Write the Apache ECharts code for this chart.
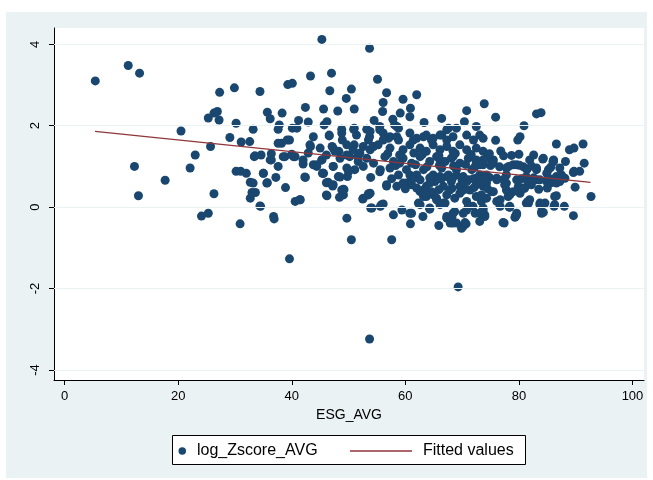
<!DOCTYPE html>
<html>
<head>
<meta charset="utf-8">
<script src="https://cdn.jsdelivr.net/npm/echarts@6/dist/echarts.min.js"></script>
<style>
html,body{margin:0;padding:0;background:#fff;}
#wrap{position:absolute;left:6px;top:12px;width:641px;height:466px;}
</style>
</head>
<body>
<div id="wrap"></div>
<script>
// ---- data ----
const esgAvg = [
5.4,11.2,13.2,12.3,13.0,17.7,20.5,22.1,23.0,24.1,25.3,25.3,25.7,26.3,26.3,26.9,27.2,27.3,29.1,29.9,
30.2,30.2,30.9,31.1,31.0,32.0,32.6,32.7,32.7,33.0,33.2,33.4,33.6,34.4,34.5,34.6,35.0,35.7,35.7,36.2,
36.4,36.4,36.8,36.9,37.2,37.6,37.6,37.8,38.3,38.2,38.9,38.8,39.2,39.3,39.6,40.1,40.1,40.3,40.6,40.6,
40.9,41.2,41.5,42.0,42.4,42.4,42.9,42.9,43.3,43.3,43.8,43.8,44.4,45.3,45.3,45.6,45.6,45.7,46.2,46.2,
46.4,46.6,46.7,47.0,47.1,47.3,47.3,48.1,48.3,48.4,48.8,48.9,49.2,49.6,49.7,49.8,50.5,50.5,51.0,51.0,
51.0,51.1,51.6,52.5,53.2,53.5,53.7,53.7,53.9,53.9,53.7,54.3,54.5,55.1,55.6,55.6,56.0,56.1,56.1,56.7,
56.7,57.6,57.9,57.8,58.1,59.1,59.4,59.6,60.2,60.9,60.9,61.1,62.0,63.1,63.3,64.3,65.9,66.4,67.9,68.2,
69.3,69.9,70.2,70.7,70.8,70.4,71.2,73.1,73.4,73.9,75.9,75.9,77.4,78.3,79.4,79.8,80.2,80.9,81.7,83.1,
83.9,84.0,84.2,86.2,86.6,86.1,86.6,88.0,88.2,88.9,89.7,89.6,89.9,89.7,90.7,91.3,91.5,92.7,
60.8,55.5,58.8,67.6,69.0,72.5,48.8,51.4,53.8,56.1,57.0,58.5,60.8,62.0,63.7,64.9,66.1,67.3,68.4,70.8,
72.0,73.7,45.0,47.3,49.7,50.8,52.6,53.8,55.2,57.3,59.6,60.8,62.6,63.7,64.9,66.1,67.3,68.4,69.6,70.8,
72.5,73.7,45.3,48.5,50.2,51.7,53.2,54.4,56.4,57.9,59.6,61.1,62.6,64.3,65.5,67.0,68.1,69.6,71.1,72.5,
73.7,45.5,47.3,49.7,52.6,55.5,57.3,58.8,60.2,62.0,63.2,64.9,66.4,67.6,69.0,70.2,71.7,73.1,48.2,59.6,
61.1,62.6,63.7,65.2,66.7,68.1,69.6,71.1,72.5,73.7,46.1,48.8,49.1,52.6,53.8,62.6,63.2,64.9,65.5,67.3,
68.7,69.6,70.8,72.5,73.4,54.1,55.8,62.6,64.3,66.1,67.3,68.4,69.0,70.2,70.8,72.3,73.1,
76.8,78.7,74.3,75.5,81.9,86.0,73.1,76.6,79.0,80.8,83.1,85.2,87.2,74.3,76.1,77.8,79.6,81.3,83.1,84.9,
86.6,88.1,73.7,75.5,77.5,79.0,80.5,82.2,74.3,76.1,78.4,81.6,83.7,84.6,86.3,73.7,76.7,78.4,81.3,74.0,
79.6,79.3,84.0,
37.6,39.6,46.6,50.9,53.5,55.5,56.1,57.3,58.5,58.8,61.4,63.2,64.6,66.4,67.3,38.5,40.0,43.2,46.1,47.6,
49.7,52.0,54.4,33.5,36.2,35.0,33.2,35.6,41.4,34.4,42.0,42.3,44.4,45.4,46.1,47.2,48.5,50.0,49.1,53.5,
56.7,60.8,67.3,62.3,63.7,65.5,59.0,60.8,64.3,66.1,63.2,64.6,67.0,58.5,
68.4,70.5,71.1,73.1,74.0,77.2,78.4,79.6,81.5,84.3,86.3,89.6,86.1,84.3,66.1,68.4,72.5,73.7,75.5,77.8,
79.6,81.4,83.1,84.9,86.6,87.5,67.3,69.0,70.8,72.5,74.3,76.1,77.8,79.9,81.6,83.7,85.5,87.2,67.8,70.0,
71.4,73.4,75.2,76.7,78.1,80.2,81.9,83.7,66.7,68.7,71.9,73.7,
56.9,59.0,61.5,63.0,65.9,68.8,71.6,74.8,77.3,80.0,82.6,
58.3,61.8,63.8,66.0,68.5,70.6,72.2,75.0,78.2,80.1,82.2,85.6,
57.6,61.2,64.3,66.3,68.3,70.0,72.0,74.8,77.3,80.5,82.6,85.6,
60.0,62.0,65.9,68.2,70.5,72.1,74.5,77.8,81.0,83.5,85.0
];
const logZscore = [
3.10,3.48,3.29,1.00,0.28,0.66,1.87,0.96,1.28,-0.22,-0.15,2.19,1.49,0.33,2.31,2.35,2.14,2.82,1.71,2.93,
2.06,0.88,-0.41,1.60,0.88,0.83,1.61,0.61,0.22,0.36,1.91,1.24,0.36,2.84,0.02,1.28,0.83,0.60,2.33,2.17,
1.31,1.16,-0.23,-0.29,0.73,1.00,1.91,2.02,2.31,1.57,0.48,1.24,1.65,3.01,-1.27,3.04,1.94,1.24,1.24,0.14,
1.94,2.13,0.18,1.06,0.73,2.45,2.09,1.33,3.22,1.49,1.73,1.04,1.00,4.12,1.16,2.41,0.83,2.02,2.10,0.28,
0.61,1.77,2.86,3.29,1.49,1.00,0.55,2.36,1.37,0.24,1.91,1.65,0.43,2.67,-0.27,0.75,-0.80,2.90,2.41,1.94,
1.53,0.92,1.24,0.20,1.91,0.30,3.90,-3.24,-0.02,0.73,1.73,1.49,2.13,3.14,0.02,0.92,2.35,2.57,0.08,2.81,
0.55,-0.80,-0.19,2.16,2.02,2.31,-0.07,2.65,0.59,-0.41,2.43,-0.15,2.76,-0.23,2.08,-0.05,-0.45,2.18,-0.39,-0.25,
-1.96,-0.52,-0.15,-0.41,2.37,2.10,0.03,1.77,-0.19,2.54,2.21,1.64,-0.39,0.00,-0.23,1.65,1.73,2.00,0.10,2.29,
2.32,-0.15,1.18,0.02,1.55,1.16,0.28,0.02,1.12,1.41,1.45,-0.21,0.49,0.88,0.88,1.55,1.08,0.26,
2.22,1.98,1.94,1.94,1.94,1.98,1.82,1.77,1.86,1.82,1.69,1.73,1.82,1.69,1.77,1.69,1.77,1.65,1.73,1.77,
1.65,1.69,1.45,1.45,1.53,1.41,1.49,1.41,1.53,1.45,1.41,1.53,1.45,1.37,1.53,1.41,1.49,1.37,1.53,1.41,
1.45,1.37,1.16,1.20,1.24,1.12,1.20,1.08,1.24,1.12,1.20,1.08,1.24,1.12,1.24,1.12,1.20,1.08,1.20,1.08,
1.16,0.83,1.00,0.96,1.00,0.87,0.96,0.79,0.92,0.79,0.92,0.79,0.96,0.79,0.92,0.75,0.92,0.79,0.75,0.59,
0.55,0.67,0.51,0.63,0.51,0.63,0.51,0.67,0.55,0.67,0.30,0.42,0.30,0.22,0.34,0.38,0.26,0.30,0.18,0.30,
0.22,0.34,0.14,0.26,0.14,-0.02,0.06,0.06,-0.02,0.06,-0.27,-0.15,-0.39,-0.47,-0.07,-0.15,-0.35,
1.38,1.27,1.20,1.16,1.16,1.12,1.04,0.99,1.04,0.99,0.92,0.92,0.96,0.79,0.71,0.79,0.67,0.75,0.67,0.63,
0.59,0.71,0.51,0.38,0.55,0.38,0.47,0.55,0.22,0.14,0.30,0.14,0.06,0.10,0.06,-0.02,0.02,0.00,0.10,-0.23,
-0.15,-0.25,-0.11,
1.57,1.65,1.75,1.91,1.65,1.90,1.65,1.73,1.98,1.65,1.65,1.73,1.65,1.77,1.90,1.24,1.30,1.53,1.28,1.37,
1.28,1.33,1.49,1.26,1.16,0.83,0.59,0.59,0.18,0.03,1.16,0.74,1.04,0.83,0.60,0.52,0.74,0.87,0.44,0.33,
0.52,-0.15,-0.23,0.10,0.26,0.22,1.08,0.79,0.59,0.75,0.42,0.38,0.10,0.51,
-0.39,-0.38,0.03,-0.15,-0.19,-0.38,0.02,-0.19,0.11,-0.13,0.26,0.85,1.12,1.20,1.16,1.24,1.16,1.04,1.08,0.96,
1.04,0.92,0.96,0.83,0.75,0.79,0.75,0.79,0.63,0.71,0.59,0.67,0.59,0.51,0.59,0.67,0.59,0.63,0.42,0.40,
0.42,0.30,0.38,0.18,0.26,0.34,0.18,0.10,0.10,-0.11,0.02,-0.07,
1.31,1.28,1.33,1.30,1.27,1.32,1.29,1.31,1.26,1.30,1.28,
1.02,1.04,0.99,1.03,1.01,1.05,0.98,1.02,1.00,1.03,1.01,0.98,
0.70,0.68,0.72,0.69,0.71,0.66,0.70,0.73,0.68,0.70,0.72,0.69,
0.45,0.47,0.43,0.46,0.44,0.48,0.45,0.42,0.46,0.44,0.47
];
// fitted regression line end points
const fitX = [5.35, 92.6];
const fitY = [1.86, 0.61];
const xTicks = [0, 20, 40, 60, 80, 100];
const yTicks = [-4, -2, 0, 2, 4];
const seriesNames = ['log_Zscore_AVG', 'Fitted values'];
const xTitle = 'ESG_AVG';

const pts = esgAvg.map((x, i) => [x, logZscore[i]]);
const fitPts = fitX.map((x, i) => [x, fitY[i]]);

const chart = echarts.init(document.getElementById('wrap'), null, {renderer: 'canvas'});
const FONT = 'Liberation Sans, Arial, sans-serif';
chart.setOption({
  backgroundColor: '#eaf2f3',
  animation: false,
  grid: {left: 48, top: 16, right: 3, bottom: 98, show: true, backgroundColor: '#ffffff', borderWidth: 0},
  xAxis: {
    type: 'value', min: -1.87, max: 102.03,
    name: xTitle, nameLocation: 'middle', nameGap: 28,
    nameTextStyle: {fontFamily: FONT, fontSize: 14, color: '#000'},
    axisLine: {show: true, onZero: false, lineStyle: {color: '#000', width: 1}},
    axisTick: {show: true, length: 5, lineStyle: {color: '#000'}, customValues: xTicks},
    axisLabel: {fontFamily: FONT, fontSize: 13, color: '#000', margin: 10, customValues: xTicks},
    splitLine: {show: false}
  },
  yAxis: {
    type: 'value', min: -4.246, max: 4.40,
    axisLine: {show: true, onZero: false, lineStyle: {color: '#000', width: 1}},
    axisTick: {show: true, length: 5, lineStyle: {color: '#000'}, customValues: yTicks},
    axisLabel: {fontFamily: FONT, fontSize: 13, color: '#000', margin: 12, rotate: 90, customValues: yTicks},
    splitLine: {show: false}
  },
  legend: [
    {data: [seriesNames[0]], left: 172.5, top: 431, padding: 0, itemWidth: 19.4, itemHeight: 7.5,
     textStyle: {fontFamily: FONT, fontSize: 16, color: '#000'}, selectedMode: false},
    {data: [{name: seriesNames[1], icon: 'rect'}], left: 344, top: 431, padding: 0, itemWidth: 62, itemHeight: 1.3,
     textStyle: {fontFamily: FONT, fontSize: 16, color: '#000', padding: [0, 0, 0, 6]}, selectedMode: false}
  ],
  graphic: [{
    type: 'rect', left: 166, top: 423, z: 0,
    shape: {width: 353, height: 29},
    style: {fill: '#ffffff', stroke: '#000', lineWidth: 1}
  }],
  series: [
    {
      type: 'scatter', name: '_grid', data: [], z: 1, silent: true,
      markLine: {
        silent: true, symbol: 'none', label: {show: false},
        lineStyle: {color: '#eaf2f3', width: 1, type: 'solid'},
        data: yTicks.map(v => ({yAxis: v}))
      }
    },
    {
      type: 'scatter', name: seriesNames[0], data: pts, z: 2,
      symbol: 'circle', symbolSize: 9,
      itemStyle: {color: '#1a476f', opacity: 1}
    },
    {
      type: 'line', name: seriesNames[1], data: fitPts, z: 3,
      symbol: 'none', lineStyle: {color: '#90353b', width: 1.3},
      itemStyle: {color: '#90353b'}
    }
  ]
});
</script>
</body>
</html>
